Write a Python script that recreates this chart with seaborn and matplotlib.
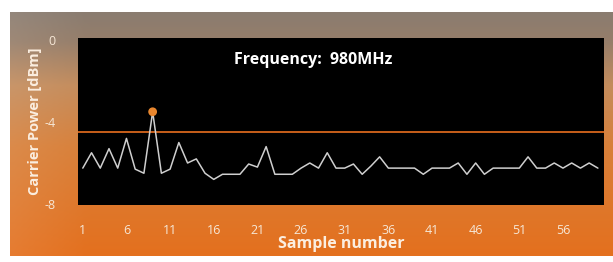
import numpy as np
import seaborn as sns
import matplotlib.pyplot as plt
import pandas as pd

# carrier power readings (dBm) per sample
power = [-6.25, -5.5, -6.25, -5.3, -6.25, -4.8, -6.3, -6.5, -3.5, -6.5,
         -6.3, -5.0, -6.0, -5.8, -6.5, -6.8, -6.55, -6.55, -6.55, -6.05,
         -6.2, -5.2, -6.55, -6.55, -6.55, -6.25, -6.0, -6.25, -5.5, -6.25,
         -6.25, -6.05, -6.55, -6.15, -5.7, -6.25, -6.25, -6.25, -6.25, -6.55,
         -6.25, -6.25, -6.25, -6.0, -6.55, -6.0, -6.55, -6.25, -6.25, -6.25,
         -6.25, -5.7, -6.25, -6.25, -6.0, -6.25, -6.0, -6.25, -6.0, -6.25]
samples = list(range(1, len(power) + 1))
threshold = -4.5
peak_sample = 9
x_ticks = list(range(1, 57, 5))
y_ticks = [-8, -4, 0]
y_ticklabels = ['-8', '-4', '0']

df = pd.DataFrame({'sample': samples, 'power': power})
peak = df[df['sample'] == peak_sample]

sns.set_style('dark')
plt.rcParams['font.family'] = ['Open Sans', 'DejaVu Sans']

fig = plt.figure(figsize=(6.13, 2.62), dpi=100)
fig.patch.set_facecolor('white')

# gradient backdrop (grey at the top, orange below)
bg = fig.add_axes([10 / 613, 6 / 262, 603 / 613, 244 / 262])
stops = [0.0, 0.12, 0.3, 0.55, 1.0]
cols = np.array([[138, 124, 112], [150, 126, 106], [196, 140, 92],
                 [216, 128, 58], [228, 112, 30]]) / 255
t = np.linspace(0, 1, 200)
grad = np.stack([np.interp(t, stops, cols[:, i]) for i in range(3)], axis=-1)
img = np.repeat(grad[:, None, :], 100, axis=1)
# slightly lighter along the left edge
light = np.clip(1 - np.linspace(0, 1, 100) * 8, 0, 1)[None, :, None] * 0.08
img = np.clip(img + light * (1 - img), 0, 1)
bg.imshow(img, aspect='auto', extent=[0, 1, 0, 1])
bg.axis('off')

ax = fig.add_axes([78 / 613, 57 / 262, 526 / 613, 167 / 262])
ax.set_facecolor('black')
ax.axhline(threshold, color='#d8671c', lw=1.3, zorder=2)
sns.lineplot(data=df, x='sample', y='power', ax=ax, color='#cfcfcf', lw=1.1, zorder=3)
sns.scatterplot(data=peak, x='sample', y='power', ax=ax, color='#e8862e', s=40,
                edgecolor='none', zorder=4)

ax.set_xlim(0.45, 60.7)
ax.set_ylim(-8.05, 0.1)
ax.set_xticks(x_ticks)
ax.set_yticks(y_ticks)
ax.set_yticklabels(y_ticklabels)
ax.tick_params(length=0, colors='#f6e7d6', labelsize=9)
ax.tick_params(axis='x', pad=14)
ax.tick_params(axis='y', pad=16)
ax.grid(False)
for s in ax.spines.values():
    s.set_visible(False)

ax.set_xlabel('Sample number', color='#fbeee0', fontsize=11.5, fontweight='bold', labelpad=-1)
ax.set_ylabel('Carrier Power [dBm]', color='#fbeee0', fontsize=10.5, fontweight='bold', labelpad=2)
ax.text(0.447, 0.87, 'Frequency:  980MHz', transform=ax.transAxes, color='white',
        fontsize=11.5, fontweight='bold', ha='center', va='center')

plt.savefig('out.png', dpi=100)
plt.close()
